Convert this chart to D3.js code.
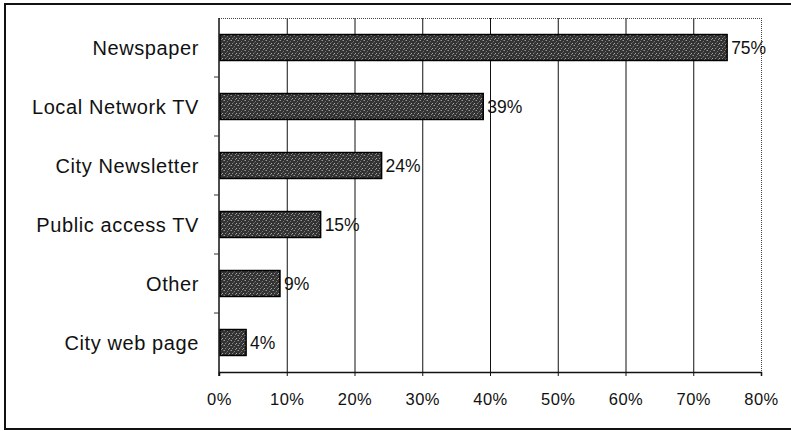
<!DOCTYPE html>
<html>
<head>
<meta charset="utf-8">
<script src="https://cdn.jsdelivr.net/npm/d3@7"></script>
<style>
  html, body { margin: 0; padding: 0; background: #fff; }
  svg { display: block; }
  text { font-family: Arial, "Liberation Sans", sans-serif; fill: #111; }
</style>
</head>
<body>
<svg id="chart" width="791" height="431"></svg>
<script>
const categories = ["Newspaper", "Local Network TV", "City Newsletter", "Public access TV", "Other", "City web page"];
const values = [75, 39, 24, 15, 9, 4];
const valueLabels = ["75%", "39%", "24%", "15%", "9%", "4%"];
const xTicks = [0, 10, 20, 30, 40, 50, 60, 70, 80];
const xTickLabels = ["0%", "10%", "20%", "30%", "40%", "50%", "60%", "70%", "80%"];

const svg = d3.select("#chart");
const margin = { left: 219, right: 30, top: 18, bottom: 59 };
const W = 791, H = 431;
const x0 = margin.left, x1 = W - margin.right;
const y0 = margin.top, y1 = H - margin.bottom;

// outer frame
svg.append("rect").attr("x", 5).attr("y", 4).attr("width", 800).attr("height", 425)
  .attr("fill", "none").attr("stroke", "#111").attr("stroke-width", 2);

// bar texture (stipple)
const defs = svg.append("defs");
const pat = defs.append("pattern").attr("id", "stipple").attr("patternUnits", "userSpaceOnUse")
  .attr("width", 7).attr("height", 5);
pat.append("rect").attr("width", 7).attr("height", 5).attr("fill", "#333");
const dots = [[0,0,"#999"],[3,1,"#777"],[5,3,"#aaa"],[1,3,"#888"],[6,0,"#666"],[4,4,"#8a8a8a"],[2,2,"#555"]];
dots.forEach(([dx, dy, c]) => pat.append("rect").attr("x", dx).attr("y", dy)
  .attr("width", 1).attr("height", 1).attr("fill", c));

const x = d3.scaleLinear().domain([0, 80]).range([x0, x1]);
const y = d3.scaleBand().domain(categories).range([y0, y1]).paddingInner(0.56).paddingOuter(0.28);

// gridlines
svg.append("g").selectAll("line").data(xTicks.filter(t => t > 0 && t < 80)).join("line")
  .attr("x1", d => x(d) + 0.5).attr("x2", d => x(d) + 0.5)
  .attr("y1", y0).attr("y2", y1)
  .attr("stroke", "#111").attr("stroke-width", 1);

// top & right dotted border of plot
svg.append("line").attr("x1", x0).attr("x2", x1).attr("y1", y0 + 0.5).attr("y2", y0 + 0.5)
  .attr("stroke", "#444").attr("stroke-width", 1).attr("stroke-dasharray", "1,1");
svg.append("line").attr("x1", x1 + 0.5).attr("x2", x1 + 0.5).attr("y1", y0).attr("y2", y1)
  .attr("stroke", "#444").attr("stroke-width", 1).attr("stroke-dasharray", "1,1");

// bars
svg.append("g").selectAll("rect").data(categories).join("rect")
  .attr("x", x(0) + 1)
  .attr("y", d => y(d))
  .attr("width", (d, i) => x(values[i]) - x(0) - 1)
  .attr("height", y.bandwidth())
  .attr("fill", "url(#stipple)")
  .attr("stroke", "#000").attr("stroke-width", 1.5);

// value labels
svg.append("g").selectAll("text").data(categories).join("text")
  .attr("x", (d, i) => x(values[i]) + 4)
  .attr("y", d => y(d) + y.bandwidth() / 2)
  .attr("dy", "0.36em")
  .attr("font-size", 17.5)
  .text((d, i) => valueLabels[i]);

// x axis
const xAxis = d3.axisBottom(x).tickValues(xTicks).tickSize(4).tickPadding(17)
  .tickFormat((d, i) => xTickLabels[i]);
const gx = svg.append("g").attr("transform", `translate(0,${y1})`).call(xAxis);
gx.select(".domain").attr("stroke", "#111").attr("stroke-width", 1.5);
gx.selectAll(".tick line").attr("stroke", "#111");
gx.selectAll(".tick text").attr("font-size", 16.5).attr("letter-spacing", "0.5px")
  .attr("font-family", "Arial, 'Liberation Sans', sans-serif").attr("fill", "#111");

// y axis with ticks at band boundaries
svg.append("line").attr("x1", x0).attr("x2", x0).attr("y1", y0).attr("y2", y1 + 4)
  .attr("stroke", "#111").attr("stroke-width", 1.5);
const bounds = d3.range(1, categories.length).map(i => y0 + i * (y1 - y0) / categories.length);
svg.append("g").selectAll("line").data(bounds).join("line")
  .attr("x1", x0 - 5).attr("x2", x0).attr("y1", d => d).attr("y2", d => d)
  .attr("stroke", "#333").attr("stroke-width", 1);

// category labels
svg.append("g").selectAll("text").data(categories).join("text")
  .attr("x", 199)
  .attr("y", d => y(d) + y.bandwidth() / 2)
  .attr("dy", "0.36em")
  .attr("text-anchor", "end")
  .attr("font-size", 20)
  .attr("letter-spacing", "0.6px")
  .text(d => d);
</script>
</body>
</html>
